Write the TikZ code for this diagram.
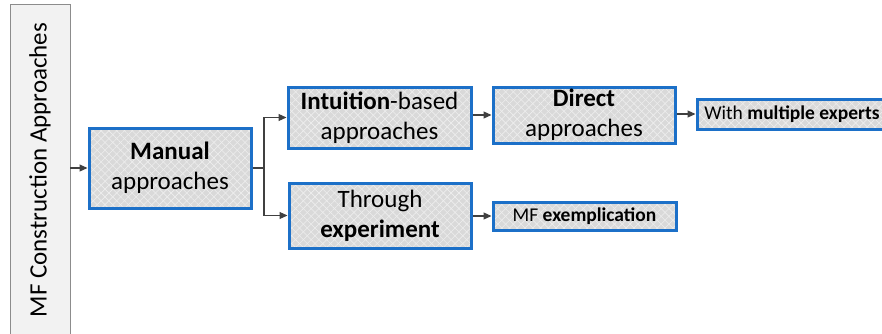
\documentclass[tikz,border=0pt]{standalone}
\usepackage{fontspec}
\setmainfont{Carlito}
\usetikzlibrary{patterns.meta,arrows.meta,calc}
\definecolor{boxfill}{HTML}{D9D9D9}
\definecolor{hatch}{HTML}{EEEEEE}
\definecolor{boxblue}{HTML}{1C70C8}
\definecolor{barfill}{HTML}{F2F2F2}
\definecolor{barline}{HTML}{8C8C8C}
\definecolor{arrowgray}{HTML}{404040}
\tikzset{
  hatched/.style={
    preaction={fill=black, fill opacity=0.15, transform canvas={shift={(2pt,-2pt)}}},
    preaction={fill=boxfill},
    preaction={pattern={Lines[angle=45,distance=5.5pt,line width=0.6pt]}, pattern color=hatch},
    preaction={pattern={Lines[angle=-45,distance=5.5pt,line width=0.6pt]}, pattern color=hatch},
    draw=boxblue, line width=3pt, inner sep=0pt, align=center},
  bigbox/.style={hatched, font=\fontsize{25}{30}\selectfont},
  smallbox/.style={hatched, font=\fontsize{19.5}{23}\selectfont},
  arr/.style={draw=arrowgray, line width=1.1pt, -{Triangle[length=8pt,width=7pt]}},
}
\begin{document}
\begin{tikzpicture}[x=1pt,y=-1pt]
\useasboundingbox (0,0) rectangle (882,333);

% vertical title bar
\node[draw=barline, fill=barfill, line width=0.8pt, rotate=90,
      minimum width=332, minimum height=60, inner sep=0pt,
      font=\fontsize{25}{30}\selectfont] (bar) at (40,170) {MF Construction Approaches};

% boxes
\node[bigbox, minimum width=162, minimum height=80] (man) at (170,168) {\textbf{Manual}\\approaches};
\node[bigbox, minimum width=183, minimum height=61] (intu) at (379.5,117.5) {\textbf{Intuition}-based\\approaches};
\node[bigbox, minimum width=182, minimum height=65] (thr) at (380,215.5) {Through\\\textbf{experiment}};
\node[bigbox, minimum width=182, minimum height=56] (dir) at (584,115) {\textbf{Direct}\\approaches};
\node[smallbox, minimum width=183, minimum height=28] (mfx) at (584.5,216) {MF \textbf{exemplication}};
\node[smallbox, minimum width=190, minimum height=30] (with) at (792,114) {With \textbf{multiple experts}};

% connectors
\coordinate (split) at (264,168);
\draw[arr] (bar.south |- man.west) -- (man.west);
\draw[arr] (man.east) -- (split) |- (intu.west);
\draw[arr] (man.east) -- (split) |- (thr.west);
\draw[arr] (intu.east |- dir.west) -- (dir.west);
\draw[arr] (dir.east |- with.west) -- (with.west);
\draw[arr] (thr.east |- mfx.west) -- (mfx.west);
\end{tikzpicture}
\end{document}
